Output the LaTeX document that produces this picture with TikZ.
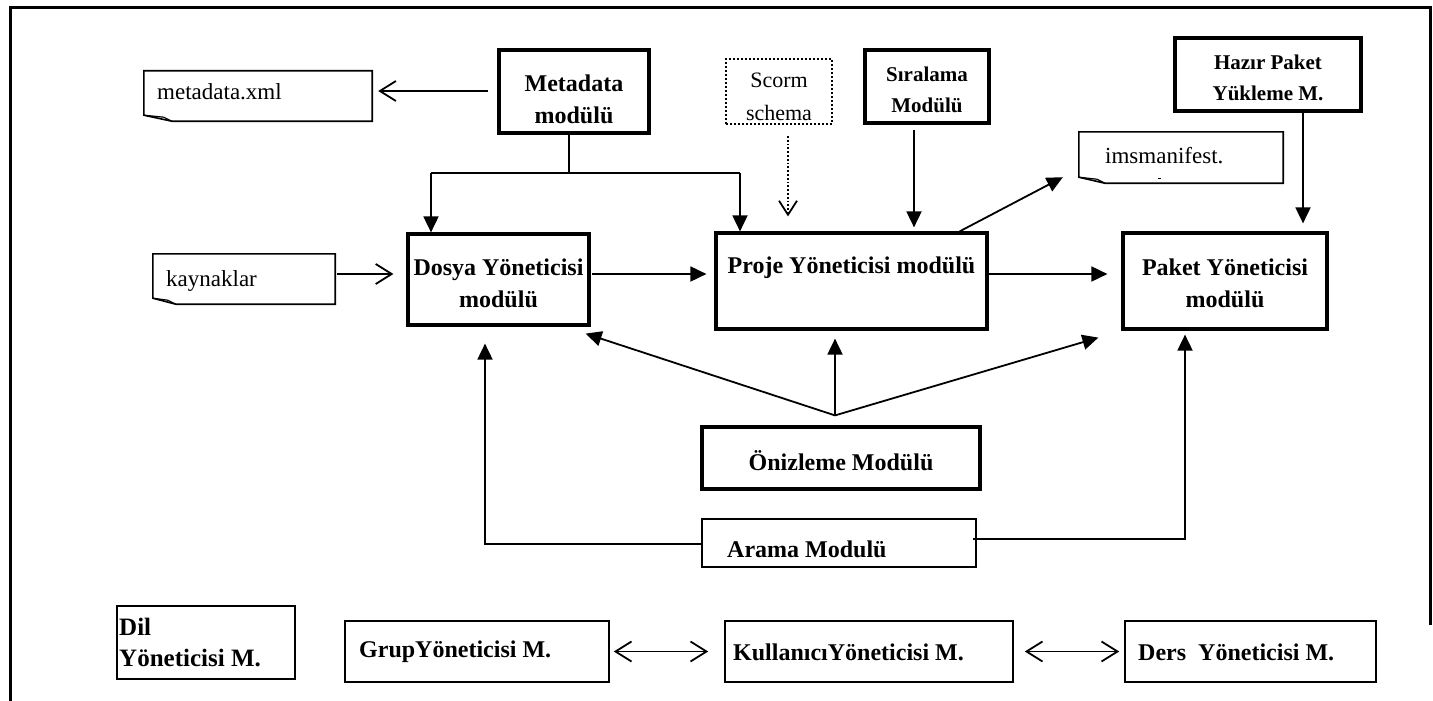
\documentclass[tikz,border=0pt]{standalone}
\usepackage{fontspec}
\setmainfont{Liberation Serif}
\usetikzlibrary{arrows.meta}
% folded-corner note outline drawn around a named node
\newcommand\foldnote[2]{%
  \draw[line width=1.6pt] (#1.north west) -- (#1.north east) -- (#1.south east)
    -- ([xshift=#2]#1.south west) -- ([yshift=6pt]#1.south west) -- cycle;
  \draw[line width=1.2pt] ([yshift=6pt]#1.south west) -- ([xshift=#2-8pt,yshift=4pt]#1.south west)
    -- ([xshift=#2]#1.south west);}
\begin{document}
\begin{tikzpicture}[x=1pt,y=-1pt,
  thickbox/.style={draw, line width=3.2pt, inner sep=0pt},
  thinbox/.style={draw, line width=1.6pt, inner sep=0pt},
  notebox/.style={inner sep=0pt},
  bt/.style={font=\bfseries\fontsize{24}{32}\selectfont, align=center, inner sep=0pt},
  bts/.style={font=\bfseries\fontsize{21}{31}\selectfont, align=center, inner sep=0pt},
  btl/.style={font=\bfseries\fontsize{24}{32}\selectfont, anchor=west, inner sep=0pt},
  rt/.style={font=\fontsize{23}{30}\selectfont, anchor=west, inner sep=0pt},
  conn/.style={line width=1.8pt},
  fa/.style={conn, -{Triangle[length=16pt,width=15pt]}},
  oa/.style={conn, -{Straight Barb[length=16pt,width=20pt]}},
  da/.style={conn, {Straight Barb[length=16pt,width=20pt]}-{Straight Barb[length=16pt,width=20pt]}},
]
\useasboundingbox (0,0) rectangle (1433,701);

% outer frame
\draw[line width=3pt] (10,701) -- (10,8) -- (1430,8) -- (1430,625);

% top row
\node[thickbox, minimum width=150pt, minimum height=83pt] (meta) at (574,91.5) {};
\node[bt] at (574,99) {Metadata\\modülü};

\node[draw, dotted, line width=2pt, minimum width=106pt, minimum height=65pt, inner sep=0pt] (scorm) at (779,91.5) {};
\node[font=\fontsize{22}{33}\selectfont, align=center, inner sep=0pt] at (779,96.5) {Scorm\\schema};

\node[thickbox, minimum width=124pt, minimum height=73pt] (sira) at (927,86.5) {};
\node[bts] at (927,89.5) {Sıralama\\Modülü};

\node[thickbox, minimum width=186pt, minimum height=73pt] (hazir) at (1268,74.5) {};
\node[bts] at (1268,77.5) {Hazır Paket\\Yükleme M.};

% notes
\node[notebox, minimum width=228pt, minimum height=50pt] (mnote) at (258,96) {};
\foldnote{mnote}{28pt}
\node[rt] at (157,92) {metadata.xml};

\node[notebox, minimum width=182pt, minimum height=50pt] (knote) at (244,279) {};
\foldnote{knote}{23pt}
\node[rt] at (166,281) {kaynaklar};

\node[notebox, minimum width=204pt, minimum height=51pt] (inote) at (1181,157.5) {};
\foldnote{inote}{26pt}
\node[rt] at (1105,156) {imsmanifest.};
\draw[line width=1pt] ([xshift=-23pt,yshift=5pt]inote.south) -- ([xshift=-20pt,yshift=5pt]inote.south);

% middle row
\node[thickbox, minimum width=181pt, minimum height=91pt] (dosya) at (498.5,279.5) {};
\node[bt] at (498.5,283.5) {Dosya Yöneticisi\\modülü};

\node[thickbox, minimum width=271pt, minimum height=96pt] (proje) at (851.5,281) {};
\node[bt] at (851.5,268) {Proje Yöneticisi modülü};

\node[thickbox, minimum width=204pt, minimum height=96pt] (paket) at (1225,281) {};
\node[bt] at (1225,283) {Paket Yöneticisi\\modülü};

\node[thickbox, minimum width=278pt, minimum height=62pt] (oniz) at (841,458) {};
\node[bt] at (841,461) {Önizleme Modülü};

\node[thinbox, minimum width=274pt, minimum height=48pt] (arama) at (839,543) {};
\node[btl] at (727,549) {Arama Modulü};

% bottom row
\node[thinbox, minimum width=178pt, minimum height=73pt] (dil) at (206,642.5) {};
\node[font=\bfseries\fontsize{25}{31}\selectfont, align=left, anchor=west, inner sep=0pt] at (119,642.5) {Dil\\Yöneticisi M.};

\node[thinbox, minimum width=264pt, minimum height=61pt] (grup) at (477,651.5) {};
\node[btl] at (359,652) {GrupYöneticisi M.};

\node[thinbox, minimum width=288pt, minimum height=61pt] (kull) at (869,651.5) {};
\node[btl] at (733,652) {KullanıcıYöneticisi M.};

\node[thinbox, minimum width=251pt, minimum height=61pt] (ders) at (1250.5,651.5) {};
\node[btl] at (1138,652) {Ders\ \ Yöneticisi M.};

% connectors: top
\draw[oa] ([xshift=-9pt,yshift=0.5pt]meta.west) -- ([xshift=6pt,yshift=5pt]mnote.east);
\coordinate (mj) at (569,173);
\coordinate (jl) at (431,173);
\coordinate (jr) at (740,173);
\draw[conn] ([xshift=-5pt]meta.south) -- (mj);
\draw[conn] (jl) -- (jr);
\draw[fa] (jl) -- (jl |- dosya.north);
\draw[fa] (jr) -- (jr |- proje.north);
\draw[conn, dotted, line width=2.2pt, -{Straight Barb[length=14pt,width=18pt,line width=1.8pt]}]
  ([xshift=9pt,yshift=-11pt]scorm.south) -- ([xshift=-63.5pt,yshift=15pt]proje.north);
\draw[fa] ([xshift=-13pt,yshift=-5pt]sira.south) -- ([xshift=62.5pt,yshift=4pt]proje.north);
\draw[fa] ([xshift=35pt]hazir.south) -- ([xshift=78pt,yshift=8pt]paket.north);
\draw[fa] ([xshift=-29pt]proje.north east) -- ([xshift=-16pt,yshift=6pt]inote.south west);

% connectors: middle
\draw[oa] ([xshift=2pt,yshift=5pt]knote.east) -- ([xshift=-13pt,yshift=5.5pt]dosya.west);
\draw[fa] ([xshift=1pt,yshift=5.5pt]dosya.east) -- ([xshift=-8pt,yshift=7pt]proje.west);
\draw[fa] ([yshift=7pt]proje.east) -- ([xshift=-14pt,yshift=7pt]paket.west);

\coordinate (apex) at ([xshift=-6pt,yshift=10pt]oniz.north);
\draw[fa] (apex) -- ([xshift=-5pt,yshift=-7pt]dosya.south east);
\draw[fa] (apex) -- ([xshift=-16.5pt,yshift=-8pt]proje.south);
\draw[fa] (apex) -- ([xshift=-23pt,yshift=-7pt]paket.south west);

\draw[fa] ([yshift=-1pt]arama.west) -| ([xshift=-13.5pt,yshift=-17pt]dosya.south);
\draw[fa] ([xshift=-4pt,yshift=4pt]arama.east) -| ([xshift=-40pt,yshift=-4pt]paket.south);

% connectors: bottom
\draw[da] ([xshift=4pt]grup.east) -- ([xshift=-16pt]kull.west);
\draw[da] ([xshift=11pt]kull.east) -- ([xshift=-5pt]ders.west);
\end{tikzpicture}
\end{document}
